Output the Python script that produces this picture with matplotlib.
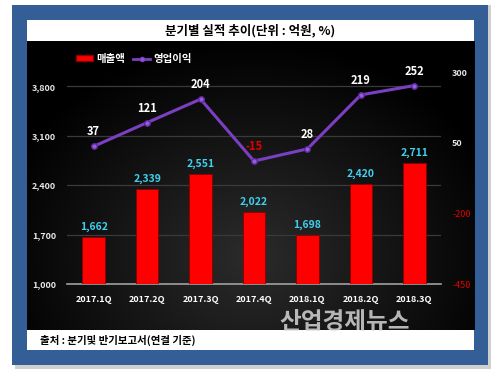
import matplotlib
matplotlib.use("Agg")
import matplotlib.pyplot as plt
import numpy as np
from matplotlib.patches import Rectangle
from matplotlib.lines import Line2D

plt.rcParams['font.family'] = ['Noto Sans CJK KR', 'DejaVu Sans']

quarters = ["2017.1Q", "2017.2Q", "2017.3Q", "2017.4Q", "2018.1Q", "2018.2Q", "2018.3Q"]
sales = [1662, 2339, 2551, 2022, 1698, 2420, 2711]
op_income = [37, 121, 204, -15, 28, 219, 252]
left_ticks = [1000, 1700, 2400, 3100, 3800]
right_ticks = [-450, -200, 50, 300]

W, H = 500, 384
fig = plt.figure(figsize=(5, 3.84), dpi=100, facecolor="white")

def fx(px): return px / W
def fy(py): return 1 - py / H

# outer shadow + blue frame
fig.patches.append(Rectangle((fx(15), fy(369)), fx(476), 364 / H, transform=fig.transFigure,
                             facecolor="#cfcfcf", edgecolor="none", zorder=0))
fig.patches.append(Rectangle((fx(12), fy(365)), fx(476), 360 / H, transform=fig.transFigure,
                             facecolor="#335e96", edgecolor="none", zorder=0))
# title band
fig.patches.append(Rectangle((fx(27), fy(41)), fx(447), 21 / H, transform=fig.transFigure,
                             facecolor="white", edgecolor="none", zorder=1))
# footer band
fig.patches.append(Rectangle((fx(27), fy(350)), fx(447), 20 / H, transform=fig.transFigure,
                             facecolor="white", edgecolor="none", zorder=1))

# black gradient background
bg = fig.add_axes([fx(27), fy(330), fx(447), 289 / H], zorder=1)
yy, xx = np.mgrid[0:1:200j, 0:1:300j]
r = np.sqrt(((xx - 0.5) / 0.7) ** 2 + ((yy - 0.25) / 0.9) ** 2)
val = np.clip(0.17 - 0.2 * r, 0, 1)
bg.imshow(np.dstack([val, val, val]), aspect="auto", extent=[0, 1, 0, 1], origin="lower")
bg.set_axis_off()

fig.text(0.5, fy(31), "분기별 실적 추이(단위 : 억원, %)", ha="center", va="center",
         fontsize=9, fontweight="bold", color="black", zorder=5)
fig.text(fx(40), fy(340), "출처 : 분기및 반기보고서(연결 기준)", ha="left", va="center",
         fontsize=7.5, fontweight="bold", color="black", zorder=5)
fig.text(fx(345), fy(322), "산업경제뉴스", ha="center", va="center", fontsize=17,
         fontweight="bold", color="#e0e0e0", alpha=0.8, zorder=6)

ax = fig.add_axes([fx(67), fy(284), fx(374), 212 / H], zorder=3)
ax.patch.set_alpha(0)
x = np.arange(len(quarters))
ax.bar(x, [s - 1000 for s in sales], bottom=1000, width=0.42, color="#ff0000",
       edgecolor="#8b0000", linewidth=0.6, zorder=3)
ax.set_ylim(1000, 4000)
ax.set_xlim(-0.5, len(quarters) - 0.5)
ax.set_yticks(left_ticks)
ax.set_yticklabels([f"{t:,}" for t in left_ticks], fontsize=6.5, fontweight="bold", color="#e6e6e6")
ax.set_xticks(x)
ax.set_xticklabels(quarters, fontsize=6.5, fontweight="bold", color="white")
ax.tick_params(length=0, pad=8)
for s in ["top", "right", "left"]:
    ax.spines[s].set_visible(False)
ax.spines["bottom"].set_color("#a0a0a0")
ax.spines["bottom"].set_linewidth(1.2)
for t in left_ticks[1:]:
    ax.axhline(t, color="#3a3a3a", linewidth=0.9, zorder=1)
for xi, s in zip(x, sales):
    ax.text(xi, s + 70, f"{s:,}", ha="center", va="bottom", fontsize=7.5,
            fontweight="bold", color="#3fd0ee", zorder=5)

ax2 = ax.twinx()
ax2.set_ylim(-450, 300)
ax2.plot(x, op_income, color="#7b3fc4", linewidth=2.2, marker="o", markersize=4,
         markerfacecolor="#9a5ae0", markeredgecolor="#5a2a9a", zorder=4)
ax2.set_yticks(right_ticks)
ax2.set_yticklabels([str(t) for t in right_ticks], fontsize=6.5)
for lbl, t in zip(ax2.get_yticklabels(), right_ticks):
    lbl.set_color("#e00000" if t < 0 else "#e6e6e6")
    lbl.set_fontweight("bold" if t >= 0 else "normal")
ax2.tick_params(length=0, pad=8)
for s in ["top", "right", "left", "bottom"]:
    ax2.spines[s].set_visible(False)
for xi, v in zip(x, op_income):
    ax2.text(xi, v + 28, str(v), ha="center", va="bottom", fontsize=8,
             fontweight="bold", color="#e00000" if v < 0 else "white", zorder=5)

handles = [Rectangle((0, 0), 1, 1, facecolor="#ff0000", edgecolor="#8b0000"),
           Line2D([0], [0], color="#7b3fc4", linewidth=2, marker="o", markersize=3,
                  markerfacecolor="#9a5ae0")]
leg = ax.legend(handles, ["매출액", "영업이익"], ncol=2, loc="upper left",
                bbox_to_anchor=(0.0, 1.13), frameon=False, fontsize=7.5,
                handlelength=1.6, handleheight=0.5, columnspacing=0.8, handletextpad=0.3)
for t in leg.get_texts():
    t.set_color("white")
    t.set_fontweight("bold")

fig.savefig("out.png", dpi=100, facecolor="white")
